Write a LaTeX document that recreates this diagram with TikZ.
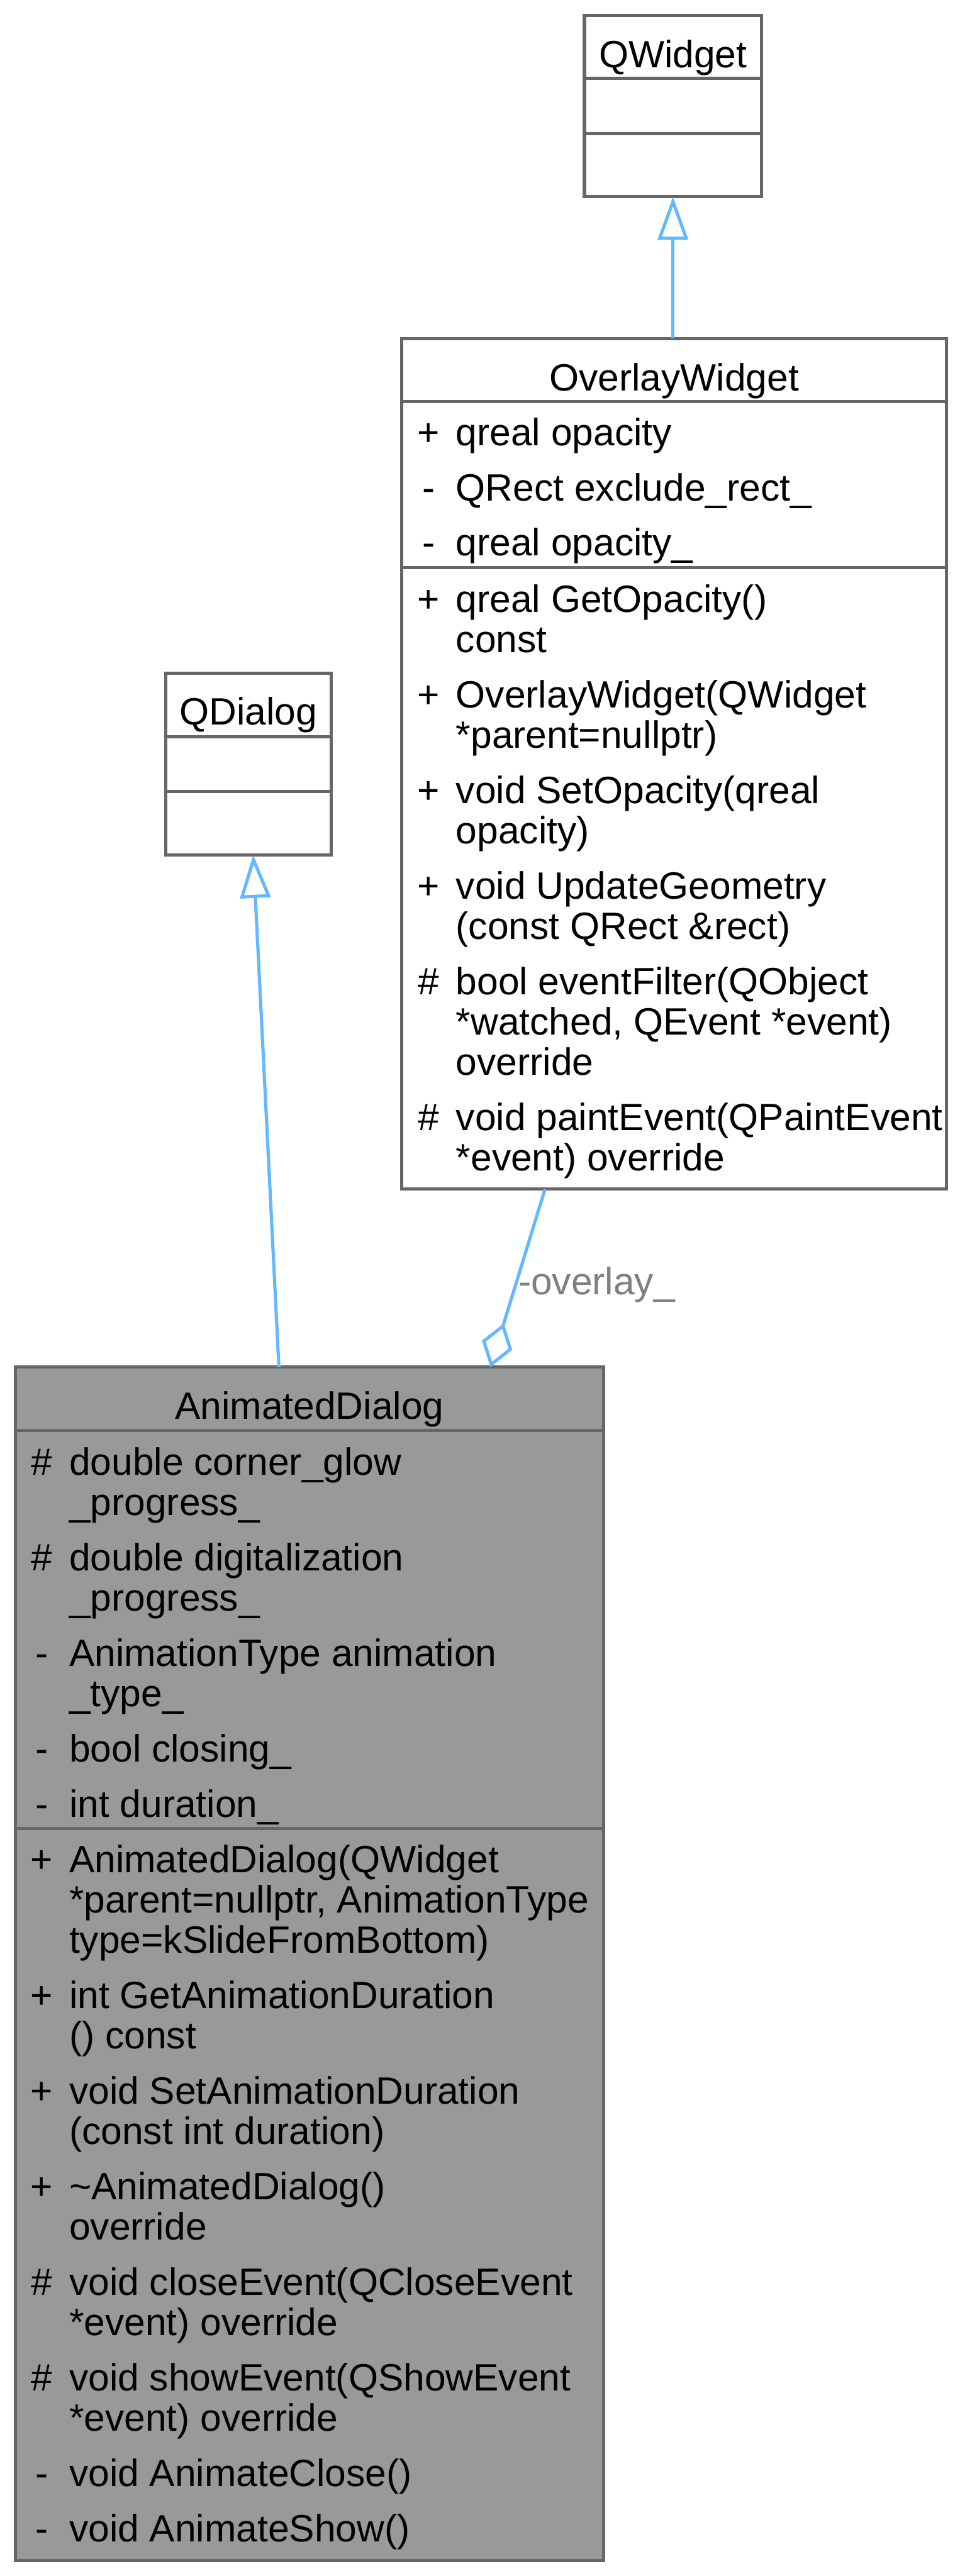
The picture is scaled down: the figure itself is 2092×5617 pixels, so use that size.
\documentclass[tikz,border=0pt]{standalone}
\usepackage{fontspec}
\setmainfont{Liberation Sans}
\usetikzlibrary{arrows.meta}
\definecolor{boxc}{HTML}{666666}
\definecolor{fillc}{HTML}{999999}
\definecolor{edgec}{HTML}{63B8FF}
\definecolor{labc}{HTML}{808080}
\begin{document}
\begin{tikzpicture}[x=0.1pt,y=-0.1pt,
  every node/.style={font=\fontsize{8.3pt}{10pt}\selectfont, inner sep=0pt, outer sep=0pt},
  umlbox/.style={draw=boxc, line width=0.7pt, fill=white, rectangle, anchor=north west},
  divline/.style={draw=boxc, line width=0.7pt},
  ttl/.style={anchor=base},
  pfx/.style={anchor=base},
  mtxt/.style={anchor=base west},
  inh/.style={draw=edgec, line width=0.7pt, -{Triangle[length=9.4pt,width=6.6pt,fill=white]}},
  comp/.style={draw=edgec, line width=0.7pt, {Diamond[length=10pt,width=6.9pt,fill=white]}-},
  elabel/.style={anchor=base west, text=labc}
]
\useasboundingbox (0,0) rectangle (2092,5617);
\fill[white] (0,0) rectangle (2092,5617);

% ---------- QWidget
\node[umlbox, minimum width=38.6pt, minimum height=39.5pt] (qw) at (1274,34) {};
\draw[divline] (1274,171) -- (1660,171);
\draw[divline] (1274,291) -- (1660,291);
\node[ttl] (qwt) at (1467,147) {QWidget};

% ---------- QDialog
\node[umlbox, minimum width=36.1pt, minimum height=39.6pt] (qd) at (361,1468) {};
\draw[divline] (361,1606) -- (722,1606);
\draw[divline] (361,1726) -- (722,1726);
\node[ttl] (qdt) at (541.5,1581) {QDialog};

% ---------- OverlayWidget
\node[umlbox, minimum width=118.7pt, minimum height=185.5pt] (ow) at (876,738) {};
\draw[divline] (876,875) -- (2063,875);
\draw[divline] (876,1238) -- (2063,1238);
\node[ttl] (owt) at (1469.5,852) {OverlayWidget};

\node[pfx] (owa1p) at (934,972) {+};
\node[mtxt] (owa1) at (994,972) {qreal opacity};
\node[pfx] (owa2p) at (934,1092) {-};
\node[mtxt] (owa2) at (994,1092) {QRect exclude\_rect\_};
\node[pfx] (owa3p) at (934,1212) {-};
\node[mtxt] (owa3) at (994,1212) {qreal opacity\_};

\node[pfx] (owm1p) at (934,1335) {+};
\node[mtxt] (owm1) at (994,1335) {qreal GetOpacity()};
\node[mtxt] (owm1b) at (994,1422.5) {const};
\node[pfx] (owm2p) at (934,1543.5) {+};
\node[mtxt] (owm2) at (994,1543.5) {OverlayWidget(QWidget};
\node[mtxt] (owm2b) at (994,1631) {*parent=nullptr)};
\node[pfx] (owm3p) at (934,1752) {+};
\node[mtxt] (owm3) at (994,1752) {void SetOpacity(qreal};
\node[mtxt] (owm3b) at (994,1839.5) {opacity)};
\node[pfx] (owm4p) at (934,1960.5) {+};
\node[mtxt] (owm4) at (994,1960.5) {void UpdateGeometry};
\node[mtxt] (owm4b) at (994,2048) {(const QRect \&rect)};
\node[pfx] (owm5p) at (934,2169) {\#};
\node[mtxt] (owm5) at (994,2169) {bool eventFilter(QObject};
\node[mtxt] (owm5b) at (994,2256.5) {*watched, QEvent *event)};
\node[mtxt] (owm5c) at (994,2344) {override};
\node[pfx] (owm6p) at (934,2465) {\#};
\node[mtxt] (owm6) at (994,2465) {void paintEvent(QPaintEvent};
\node[mtxt] (owm6b) at (994,2552.5) {*event) override};

% ---------- AnimatedDialog
\node[umlbox, fill=fillc, minimum width=128.3pt, minimum height=260.2pt] (ad) at (33,2981) {};
\draw[divline] (33,3119) -- (1316,3119);
\draw[divline] (33,3987) -- (1316,3987);
\node[ttl] (adt) at (674.5,3094) {AnimatedDialog};

\node[pfx] (ada1p) at (91,3216) {\#};
\node[mtxt] (ada1) at (151,3216) {double corner\_glow};
\node[mtxt] (ada1b) at (151,3303.5) {\_progress\_};
\node[pfx] (ada2p) at (91,3424.5) {\#};
\node[mtxt] (ada2) at (151,3424.5) {double digitalization};
\node[mtxt] (ada2b) at (151,3512) {\_progress\_};
\node[pfx] (ada3p) at (91,3633) {-};
\node[mtxt] (ada3) at (151,3633) {AnimationType animation};
\node[mtxt] (ada3b) at (151,3720.5) {\_type\_};
\node[pfx] (ada4p) at (91,3841.5) {-};
\node[mtxt] (ada4) at (151,3841.5) {bool closing\_};
\node[pfx] (ada5p) at (91,3962.5) {-};
\node[mtxt] (ada5) at (151,3962.5) {int duration\_};

\node[pfx] (adm1p) at (91,4083) {+};
\node[mtxt] (adm1) at (151,4083) {AnimatedDialog(QWidget};
\node[mtxt] (adm1b) at (151,4170.5) {*parent=nullptr, AnimationType};
\node[mtxt] (adm1c) at (151,4258) {type=kSlideFromBottom)};
\node[pfx] (adm2p) at (91,4379) {+};
\node[mtxt] (adm2) at (151,4379) {int GetAnimationDuration};
\node[mtxt] (adm2b) at (151,4466.5) {() const};
\node[pfx] (adm3p) at (91,4587.5) {+};
\node[mtxt] (adm3) at (151,4587.5) {void SetAnimationDuration};
\node[mtxt] (adm3b) at (151,4675) {(const int duration)};
\node[pfx] (adm4p) at (91,4796) {+};
\node[mtxt] (adm4) at (151,4796) {\textasciitilde AnimatedDialog()};
\node[mtxt] (adm4b) at (151,4883.5) {override};
\node[pfx] (adm5p) at (91,5004.5) {\#};
\node[mtxt] (adm5) at (151,5004.5) {void closeEvent(QCloseEvent};
\node[mtxt] (adm5b) at (151,5092) {*event) override};
\node[pfx] (adm6p) at (91,5213) {\#};
\node[mtxt] (adm6) at (151,5213) {void showEvent(QShowEvent};
\node[mtxt] (adm6b) at (151,5300.5) {*event) override};
\node[pfx] (adm7p) at (91,5421.5) {-};
\node[mtxt] (adm7) at (151,5421.5) {void AnimateClose()};
\node[pfx] (adm8p) at (91,5542.5) {-};
\node[mtxt] (adm8) at (151,5542.5) {void AnimateShow()};

% ---------- connectors
\draw[inh] (qw.south |- ow.north) -- (qw.south);
\draw[inh] ([xshift=-6.65pt]ad.north) -- ([xshift=1.05pt]qd.south);
\draw[comp] ([xshift=39.45pt]ad.north) -- ([xshift=-28.15pt]ow.south);
\node[elabel] (lbl) at (1130,2823) {-overlay\_};
\end{tikzpicture}
\end{document}
